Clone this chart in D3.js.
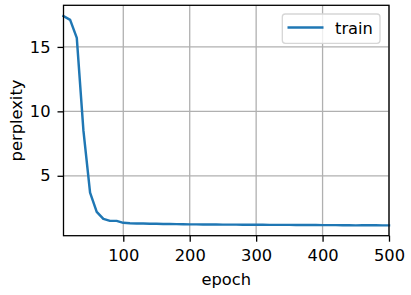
<!DOCTYPE html>
<html>
<head>
<meta charset="utf-8">
<script src="https://cdn.jsdelivr.net/npm/d3@7"></script>
<style>
  body { margin: 0; background: #fff; }
  text { font-family: "DejaVu Sans", sans-serif; fill: #000; }
</style>
</head>
<body>
<div id="chart"></div>
<script>
const epochs = d3.range(10, 501, 10);
const perplexity = [
  17.4, 17.1, 15.7, 8.5, 3.7, 2.2, 1.65, 1.5, 1.5, 1.35,
  1.31, 1.3, 1.29, 1.28, 1.27, 1.26, 1.26, 1.25, 1.24, 1.23,
  1.23, 1.22, 1.22, 1.22, 1.21, 1.21, 1.21, 1.2, 1.2, 1.2,
  1.2, 1.19, 1.19, 1.19, 1.19, 1.18, 1.18, 1.18, 1.18, 1.17,
  1.17, 1.17, 1.16, 1.16, 1.15, 1.16, 1.16, 1.16, 1.15, 1.15
];
const xTicks = [100, 200, 300, 400, 500];
const yTicks = [5, 10, 15];
const seriesName = "train";

const width = 411, height = 295;
const margin = { top: 5.3, right: 22, bottom: 59.3, left: 63.5 };
const fontSize = "16.3px";

const svg = d3.select("#chart").append("svg")
  .attr("width", width)
  .attr("height", height);

const x = d3.scaleLinear()
  .domain([10, 500])
  .range([margin.left, width - margin.right]);

const y = d3.scaleLinear()
  .domain([0.35, 18.23])
  .range([height - margin.bottom, margin.top]);

// grid
svg.append("g")
  .selectAll("line")
  .data(xTicks)
  .join("line")
  .attr("x1", d => x(d)).attr("x2", d => x(d))
  .attr("y1", margin.top).attr("y2", height - margin.bottom)
  .attr("stroke", "#b0b0b0").attr("stroke-width", 1.3);

svg.append("g")
  .selectAll("line")
  .data(yTicks)
  .join("line")
  .attr("x1", margin.left).attr("x2", width - margin.right)
  .attr("y1", d => y(d)).attr("y2", d => y(d))
  .attr("stroke", "#b0b0b0").attr("stroke-width", 1.3);

// line
const pts = epochs.map((e, i) => [e, perplexity[i]]);
svg.append("path")
  .datum(pts)
  .attr("fill", "none")
  .attr("stroke", "#1f77b4")
  .attr("stroke-width", 2.45)
  .attr("stroke-linejoin", "round")
  .attr("stroke-linecap", "square")
  .attr("d", d3.line().x(d => x(d[0])).y(d => y(d[1])));

// axes
const xAxis = svg.append("g")
  .attr("transform", `translate(0,${height - margin.bottom})`)
  .call(d3.axisBottom(x).tickValues(xTicks).tickSize(6).tickPadding(7.5));
const yAxis = svg.append("g")
  .attr("transform", `translate(${margin.left},0)`)
  .call(d3.axisLeft(y).tickValues(yTicks).tickSize(6).tickPadding(7));

[xAxis, yAxis].forEach(a => {
  a.select(".domain").remove();
  a.selectAll("line").attr("stroke", "#000").attr("stroke-width", 1.3);
  a.selectAll("text").style("font-size", fontSize).style("font-family", "DejaVu Sans").attr("fill", "#000");
});

// spines
svg.append("rect")
  .attr("x", margin.left).attr("y", margin.top)
  .attr("width", width - margin.right - margin.left)
  .attr("height", height - margin.bottom - margin.top)
  .attr("fill", "none").attr("stroke", "#000").attr("stroke-width", 1.3);

// labels
svg.append("text")
  .attr("x", (margin.left + width - margin.right) / 2)
  .attr("y", 284.5)
  .attr("text-anchor", "middle")
  .style("font-size", fontSize)
  .text("epoch");

svg.append("text")
  .attr("transform", `translate(21.5,${(margin.top + height - margin.bottom) / 2}) rotate(-90)`)
  .attr("text-anchor", "middle")
  .style("font-size", fontSize)
  .text("perplexity");

// legend
const lg = svg.append("g");
lg.append("rect")
  .attr("x", 282.3).attr("y", 14)
  .attr("width", 97.7).attr("height", 29.3)
  .attr("rx", 3)
  .attr("fill", "#fff").attr("fill-opacity", 0.8)
  .attr("stroke", "#d6d6d6").attr("stroke-width", 1.3);
lg.append("line")
  .attr("x1", 287.5).attr("x2", 323.5)
  .attr("y1", 27.5).attr("y2", 27.5)
  .attr("stroke", "#1f77b4").attr("stroke-width", 2.45);
lg.append("text")
  .attr("x", 335).attr("y", 33.5)
  .style("font-size", fontSize)
  .text(seriesName);
</script>
</body>
</html>
